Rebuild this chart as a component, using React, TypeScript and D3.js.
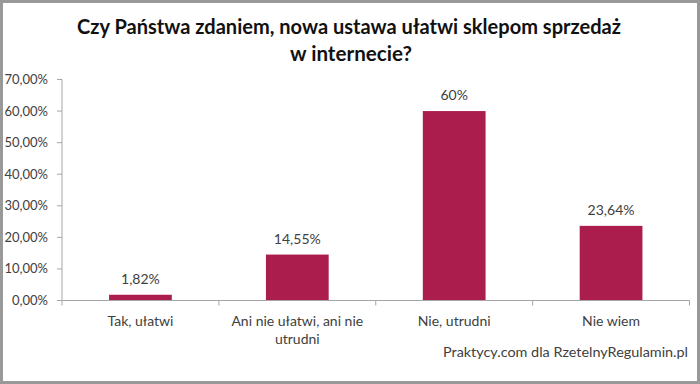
import React from "react";
import * as d3 from "d3";

const titleLines = ["Czy Państwa zdaniem, nowa ustawa ułatwi sklepom sprzedaż", "w internecie?"];
const categories = ["Tak, ułatwi", "Ani nie ułatwi, ani nie utrudni", "Nie, utrudni", "Nie wiem"];
const values = [1.82, 14.55, 60, 23.64];
const valueLabels = ["1,82%", "14,55%", "60%", "23,64%"];
const yTicks = [0, 10, 20, 30, 40, 50, 60, 70];
const sourceText = "Praktycy.com dla RzetelnyRegulamin.pl";

const W = 700;
const H = 384;
const FONT = "Lato, 'Open Sans', sans-serif";
const TEXT = "#404040";
const BAR = "#AB1D4C";
const AXIS = "#A6A6A6";

function wrap(label: string, maxChars: number): string[] {
  const words = label.split(" ");
  const lines: string[] = [];
  let cur = "";
  for (const w of words) {
    const next = cur ? cur + " " + w : w;
    if (next.length > maxChars && cur) {
      lines.push(cur);
      cur = w;
    } else cur = next;
  }
  if (cur) lines.push(cur);
  return lines;
}

export default function App() {
  const left = 62;
  const right = 689.5;
  const y = d3.scaleLinear().domain([0, 70]).range([300.5, 79.5]);
  const x = d3.scaleBand<string>().domain(categories).range([left, right]).padding(0);
  const step = x.step();
  const barW = step * 0.4;
  const fmt = (v: number) => d3.format(".2f")(v).replace(".", ",") + "%";
  const boundaries = d3.range(categories.length + 1).map((i) => left + i * step);

  return (
    <svg
      width={W}
      height={H}
      style={{ position: "absolute", left: 0, top: 0, background: "#fff" }}
      fontFamily={FONT}
    >
      <rect x={0} y={0} width={W} height={H} fill="#fff" />
      <rect x={1.5} y={1.5} width={W - 3} height={H - 3} fill="none" stroke="#999" strokeWidth={3} />

      {/* title */}
      <text x={349} y={34} textAnchor="middle" fontSize={20} fontWeight="bold" fill="#111"
        textLength={544} lengthAdjust="spacingAndGlyphs">
        {titleLines[0]}
      </text>
      <text x={351} y={61} textAnchor="middle" fontSize={20} fontWeight="bold" fill="#111"
        textLength={122} lengthAdjust="spacingAndGlyphs">
        {titleLines[1]}
      </text>

      {/* y axis */}
      <line x1={left} x2={left} y1={y(70)} y2={y(0)} stroke={AXIS} strokeWidth={1} />
      {yTicks.map((t) => (
        <g key={t}>
          <line x1={left - 5} x2={left} y1={y(t)} y2={y(t)} stroke={AXIS} />
          <text x={48} y={y(t)} dy="0.35em" textAnchor="end" fontSize={13} fill={TEXT}>
            {fmt(t)}
          </text>
        </g>
      ))}

      {/* bars */}
      {categories.map((c, i) => {
        const cx = (x(c) as number) + step / 2;
        return (
          <g key={c}>
            <rect x={cx - barW / 2} y={y(values[i])} width={barW} height={y(0) - y(values[i])} fill={BAR} />
            <text x={cx} y={y(values[i]) - 11} textAnchor="middle" fontSize={14} fill={TEXT}>
              {valueLabels[i]}
            </text>
          </g>
        );
      })}

      {/* x axis */}
      <line x1={left} x2={right} y1={y(0)} y2={y(0)} stroke={AXIS} strokeWidth={1} />
      {boundaries.map((b, i) => (
        <line key={i} x1={b} x2={b} y1={y(0)} y2={y(0) + 5} stroke={AXIS} />
      ))}
      {categories.map((c) => {
        const cx = (x(c) as number) + step / 2;
        const lines = wrap(c, 23);
        return (
          <text key={c} x={cx} y={326} textAnchor="middle" fontSize={14} fill={TEXT}>
            {lines.map((l, j) => (
              <tspan key={j} x={cx} dy={j === 0 ? 0 : 18}>
                {l}
              </tspan>
            ))}
          </text>
        );
      })}

      {/* source */}
      <text x={443} y={357} fontSize={14} fill={TEXT} textLength={245} lengthAdjust="spacingAndGlyphs">
        {sourceText}
      </text>
    </svg>
  );
}
